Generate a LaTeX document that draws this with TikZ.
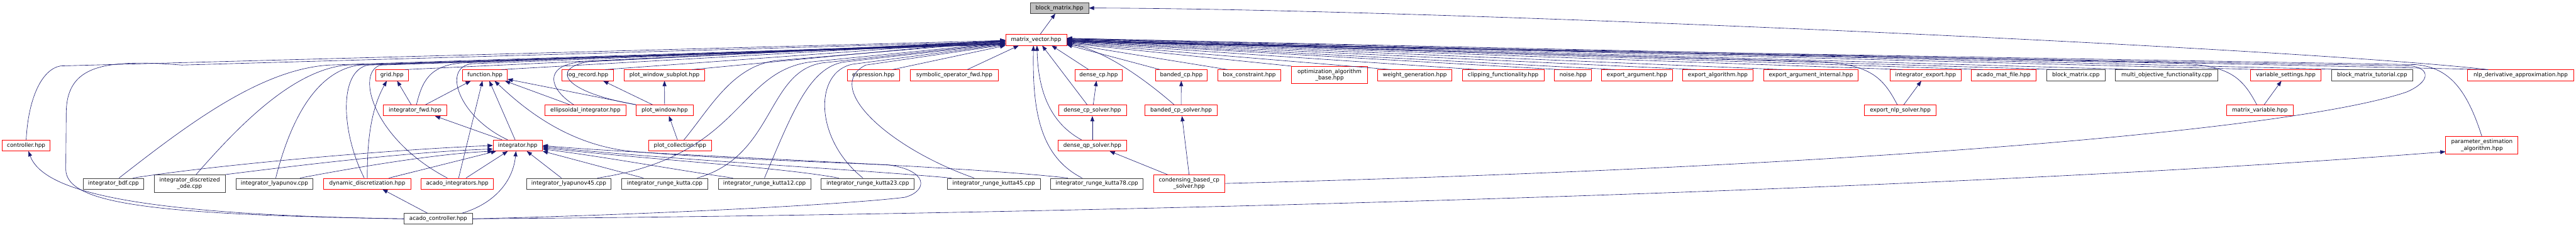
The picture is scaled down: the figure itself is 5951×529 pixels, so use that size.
\documentclass[tikz,border=0pt]{standalone}
\usepackage{fontspec}
\setmainfont{DejaVu Sans}
\usetikzlibrary{arrows.meta}
\definecolor{edgeblue}{HTML}{191970}
\definecolor{boxgray}{HTML}{404040}
\definecolor{rootfill}{HTML}{BFBFBF}
\begin{document}
\begin{tikzpicture}[x=1pt,y=-1pt,
  file/.style={rectangle,draw=red,line width=1.1pt,fill=white,inner sep=0pt,minimum height=25pt,align=center,font=\fontsize{12.8}{15}\selectfont},
  src/.style={file,draw=boxgray},
  root/.style={file,draw=boxgray,fill=rootfill},
  wd/.style={minimum width=#1pt},
  tall/.style={minimum height=40pt},
  dep/.style={draw=edgeblue,line width=0.9pt,-{Triangle[length=12pt,width=9pt]}}]
\useasboundingbox (0,0) rectangle (5951,529);

\node[root,wd=135] (bm) at (2447.5,18.5) {block\_matrix.hpp};
\node[file,wd=141] (mv) at (2393.5,92) {matrix\_vector.hpp};

\node[file,wd=75] (grid) at (905.5,173.5) {grid.hpp};
\node[file,wd=103] (func) at (1120.5,173.5) {function.hpp};
\node[file,wd=119] (logrec) at (1357.5,173.5) {log\_record.hpp};
\node[file,wd=186] (pwsub) at (1535,173.5) {plot\_window\_subplot.hpp};
\node[file,wd=121] (expr) at (2017.5,173.5) {expression.hpp};
\node[file,wd=203] (symop) at (2204.5,173.5) {symbolic\_operator\_fwd.hpp};
\node[file,wd=110] (dcp) at (2538,173.5) {dense\_cp.hpp};
\node[file,wd=120] (bcp) at (2729,173.5) {banded\_cp.hpp};
\node[file,wd=146] (boxc) at (2886,173.5) {box\_constraint.hpp};
\node[file,wd=175,tall] (optalg) at (3071.5,173) {optimization\_algorithm\\\_base.hpp};
\node[file,wd=171] (wgen) at (3268.5,173.5) {weight\_generation.hpp};
\node[file,wd=189] (clip) at (3472.5,173.5) {clipping\_functionality.hpp};
\node[file,wd=86] (noise) at (3634,173.5) {noise.hpp};
\node[file,wd=163] (exparg) at (3781.5,173.5) {export\_argument.hpp};
\node[file,wd=163] (expalg) at (3968.5,173.5) {export\_algorithm.hpp};
\node[file,wd=219] (expargint) at (4183.5,173.5) {export\_argument\_internal.hpp};
\node[file,wd=163] (intexp) at (4448.5,173.5) {integrator\_export.hpp};
\node[file,wd=149] (matfile) at (4628.5,173.5) {acado\_mat\_file.hpp};
\node[src,wd=135] (bmcpp) at (4795.5,173.5) {block\_matrix.cpp};
\node[src,wd=237] (multiobj) at (5005.5,173.5) {multi\_objective\_functionality.cpp};
\node[file,wd=163] (varset) at (5280.5,173.5) {variable\_settings.hpp};
\node[src,wd=188] (bmtut) at (5480,173.5) {block\_matrix\_tutorial.cpp};
\node[file,wd=246] (nlpder) at (5823,173.5) {nlp\_derivative\_approximation.hpp};

\node[file,wd=146] (intfwd) at (959,254.5) {integrator\_fwd.hpp};
\node[file,wd=187] (ellint) at (1352.5,254.5) {ellipsoidal\_integrator.hpp};
\node[file,wd=131] (pwin) at (1535.5,254.5) {plot\_window.hpp};
\node[file,wd=157] (dcpsol) at (2523.5,254.5) {dense\_cp\_solver.hpp};
\node[file,wd=167] (bcpsol) at (2728.5,254.5) {banded\_cp\_solver.hpp};
\node[file,wd=166] (expnlp) at (4390,254.5) {export\_nlp\_solver.hpp};
\node[file,wd=153] (matvar) at (5220.5,254.5) {matrix\_variable.hpp};

\node[file,wd=111] (ctrl) at (60.5,335.5) {controller.hpp};
\node[file,wd=114] (integ) at (1196,335.5) {integrator.hpp};
\node[file,wd=146] (pcoll) at (1571,335.5) {plot\_collection.hpp};
\node[file,wd=159] (dqpsol) at (2523.5,335.5) {dense\_qp\_solver.hpp};
\node[file,wd=167,tall] (paramest) at (5733.5,335) {parameter\_estimation\\\_algorithm.hpp};

\node[src,wd=140] (bdf) at (262,423.5) {integrator\_bdf.cpp};
\node[src,wd=164,tall] (discode) at (438,423) {integrator\_discretized\\\_ode.cpp};
\node[src,wd=178] (lyap) at (634,423.5) {integrator\_lyapunov.cpp};
\node[file,wd=201] (dyndisc) at (848.5,423.5) {dynamic\_discretization.hpp};
\node[file,wd=167] (acadoint) at (1056.5,423.5) {acado\_integrators.hpp};
\node[src,wd=196] (lyap45) at (1314,423.5) {integrator\_lyapunov45.cpp};
\node[src,wd=199] (rk) at (1535.5,423.5) {integrator\_runge\_kutta.cpp};
\node[src,wd=214] (rk12) at (1766,423.5) {integrator\_runge\_kutta12.cpp};
\node[src,wd=215] (rk23) at (2004.5,423.5) {integrator\_runge\_kutta23.cpp};
\node[src,wd=215] (rk45) at (2295.5,423.5) {integrator\_runge\_kutta45.cpp};
\node[src,wd=214] (rk78) at (2534,423.5) {integrator\_runge\_kutta78.cpp};
\node[file,wd=164,tall] (condens) at (2747,423) {condensing\_based\_cp\\\_solver.hpp};

\node[src,wd=157] (acadoctrl) at (1012.5,504.5) {acado\_controller.hpp};

\draw[dep] (mv) -- (bm);
\draw[dep] ([xshift=-75]nlpder.north) .. controls (5300,110) and (3300,20) .. (bm.east);

\draw[dep] (ctrl.north) .. controls (65,230) and (95,160) .. (140,152) -- (mv.181);
\draw[dep] (acadoctrl.west) .. controls (350,495) and (152,470) .. (152,390) -- (153,260) .. controls (154,150) and (240,136) .. (420,150) -- (mv.183);
\draw[dep] ([xshift=-23]integ.north) .. controls (1060,270) and (1020,155) .. (1090,147) -- (mv.185);
\draw[dep] ([xshift=13]bdf.north) .. controls (430,290) and (600,160) .. (760,150) -- (mv.186);
\draw[dep] ([xshift=15]discode.north) .. controls (560,280) and (680,162) .. (800,150) -- (mv.187);
\draw[dep] ([xshift=3]lyap.north) .. controls (665,300) and (720,165) .. (830,150) -- (mv.187);
\draw[dep] ([xshift=-7]dyndisc.north) .. controls (790,310) and (780,165) .. (850,150) -- (mv.188);
\draw[dep] ([xshift=-23]acadoint.north) .. controls (860,320) and (820,165) .. (880,150) -- (mv.188);
\draw[dep] ([xshift=3]intfwd.north) .. controls (975,190) and (990,150) .. (1070,145) -- (mv.184);
\draw[dep] ([xshift=30]grid.north) -- (mv.183);
\draw[dep] ([xshift=37]func.north) -- (mv.182);
\draw[dep] ([xshift=-27]ellint.north) .. controls (1268,205) and (1255,152) .. (1340,143) -- (mv.182);
\draw[dep] ([xshift=40]logrec.north) -- (mv.181);
\draw[dep] (pwin.north west) .. controls (1300,212) and (1270,158) .. (1360,142) -- (mv.181);
\draw[dep] ([xshift=63]pwsub.north) -- (mv.180);
\draw[dep] ([xshift=9]pcoll.north) .. controls (1640,250) and (1690,155) .. (1790,140) -- (mv.183);
\draw[dep] ([xshift=66]lyap45.north) .. controls (1720,360) and (1700,160) .. (1880,142) -- (mv.185);
\draw[dep] ([xshift=75]rk.north) .. controls (1790,360) and (1770,165) .. (1900,145) -- (mv.186);
\draw[dep] (rk12.north) .. controls (1830,260) and (1870,155) .. (1950,143) -- (mv.187);
\draw[dep] ([xshift=-11]rk23.north) .. controls (1880,320) and (1880,165) .. (1970,148) -- (mv.188);
\draw[dep] ([xshift=-45]rk45.north) .. controls (2050,340) and (1900,200) .. (2000,150) -- (mv.189);
\draw[dep] ([xshift=44]expr.north) -- (mv.south west);
\draw[dep] ([xshift=30]symop.north) -- ([xshift=-40]mv.south);

\draw[dep] ([xshift=-34]rk78.north) .. controls (2400,360) and (2385,250) .. ([xshift=-6]mv.south);
\draw[dep] ([xshift=-25]dqpsol.north) .. controls (2420,280) and (2398,200) .. ([xshift=2]mv.south);
\draw[dep] ([xshift=-12]dcpsol.north) -- ([xshift=14]mv.south);
\draw[dep] ([xshift=-23]dcp.north) -- ([xshift=36]mv.south);
\draw[dep] ([xshift=-16]bcpsol.north) .. controls (2630,170) and (2540,112) .. (mv.352);

\draw[dep] ([xshift=-49]bcp.north) -- (mv.351);
\draw[dep] ([xshift=-50]boxc.north) -- (mv.353);
\draw[dep] (optalg.north west) -- (mv.354);
\draw[dep] ([xshift=-55]wgen.north) -- (mv.355);
\draw[dep] ([xshift=-60]clip.north) -- (mv.356);
\draw[dep] ([xshift=-31]noise.north) -- (mv.357);
\draw[dep] ([xshift=-50]exparg.north) -- (mv.358);
\draw[dep] ([xshift=-50]expalg.north) -- (mv.359);
\draw[dep] ([xshift=-66]expargint.north) -- (mv.east);
\draw[dep] ([xshift=-53]intexp.north) -- (mv.east);
\draw[dep] ([xshift=-47]matfile.north) -- (mv.1);
\draw[dep] ([xshift=-43]bmcpp.north) -- (mv.1);
\draw[dep] ([xshift=-70]multiobj.north) -- (mv.2);
\draw[dep] ([xshift=-53]varset.north) -- (mv.2);
\draw[dep] ([xshift=-57]bmtut.north) -- (mv.3);
\draw[dep] ([xshift=-75]nlpder.north) -- (mv.3);
\draw[dep] ([xshift=-7]expnlp.north) .. controls (4350,178) and (4320,148) .. (4200,142) -- (mv.359);
\draw[dep] ([xshift=-7]matvar.north) .. controls (5180,178) and (5150,150) .. (5030,146) -- (mv.358);
\draw[dep] (paramest.north) .. controls (5700,210) and (5660,155) .. (5580,149) -- (mv.357);
\draw[dep] (condens.east) .. controls (4300,385) and (5300,300) .. (5560,212) .. controls (5615,188) and (5615,158) .. (5570,152) -- (mv.356);

\draw[dep] ([xshift=-9]intfwd.north) -- ([xshift=12]grid.south);
\draw[dep] (dyndisc.north) .. controls (848,320) and (858,250) .. ([xshift=-12]grid.south);
\draw[dep] ([xshift=24]intfwd.north) -- ([xshift=-33]func.south);
\draw[dep] ([xshift=3]acadoint.north) -- ([xshift=-6]func.south);
\draw[dep] ([xshift=-6]integ.north) -- ([xshift=10]func.south);
\draw[dep] ([xshift=-36]ellint.north) -- ([xshift=-6]func.south east);
\draw[dep] (pwin.north west) -- (func.350);
\draw[dep] ([xshift=-36]integ.north) -- ([xshift=46]intfwd.south);
\draw[dep] ([xshift=-28]pwin.north) -- ([xshift=36]logrec.south);
\draw[dep] (pwin) -- (pwsub);
\draw[dep] ([xshift=-6]pcoll.north) -- ([xshift=10]pwin.south);

\draw[dep] ([xshift=45]bdf.north) .. controls (500,380) and (900,345) .. (integ.west);
\draw[dep] (discode.north east) .. controls (700,380) and (950,350) .. (integ.188);
\draw[dep] ([xshift=59]lyap.north) .. controls (800,390) and (1000,355) .. (integ.south west);
\draw[dep] ([xshift=50]dyndisc.north) -- ([xshift=8]integ.south west);
\draw[dep] ([xshift=20]acadoint.north) -- ([xshift=-23]integ.south);
\draw[dep] ([xshift=-17]lyap45.north) -- ([xshift=21]integ.south);
\draw[dep] ([xshift=-49]rk.north) -- (integ.south east);
\draw[dep] ([xshift=-73]rk12.north) .. controls (1550,390) and (1400,362) .. (integ.352);
\draw[dep] ([xshift=-67]rk23.north) .. controls (1800,385) and (1500,368) .. (integ.355);
\draw[dep] ([xshift=-98]rk45.north) .. controls (2000,392) and (1500,365) .. (integ.358);
\draw[dep] ([xshift=-67]rk78.north) .. controls (2200,380) and (1500,358) .. (integ.east);

\draw[dep] (acadoctrl.west) .. controls (300,495) and (100,440) .. ([xshift=5]ctrl.south);
\draw[dep] ([xshift=-25]acadoctrl.north) -- ([xshift=35]dyndisc.south);
\draw[dep] ([xshift=55]acadoctrl.north) .. controls (1140,470) and (1185,420) .. ([xshift=-4]integ.south);
\draw[dep] (acadoctrl.east) .. controls (1500,495) and (1950,472) .. (2090,455) .. controls (2145,440) and (2145,392) .. (2050,380) .. controls (1800,370) and (1600,362) .. (1450,348) .. controls (1300,330) and (1200,240) .. ([xshift=22]func.south);
\draw[dep] (acadoctrl.east) .. controls (2500,495) and (4500,440) .. (paramest.190);

\draw[dep] ([xshift=2]dcpsol.north) -- ([xshift=-5]dcp.south);
\draw[dep] (dqpsol) -- (dcpsol);
\draw[dep] (bcpsol) -- (bcp);
\draw[dep] ([xshift=-50]condens.north) -- ([xshift=40]dqpsol.south);
\draw[dep] (condens.north) -- ([xshift=2]bcpsol.south);
\draw[dep] ([xshift=8]expnlp.north) -- ([xshift=-10]intexp.south);
\draw[dep] ([xshift=10]matvar.north) -- ([xshift=-10]varset.south);
\end{tikzpicture}
\end{document}
